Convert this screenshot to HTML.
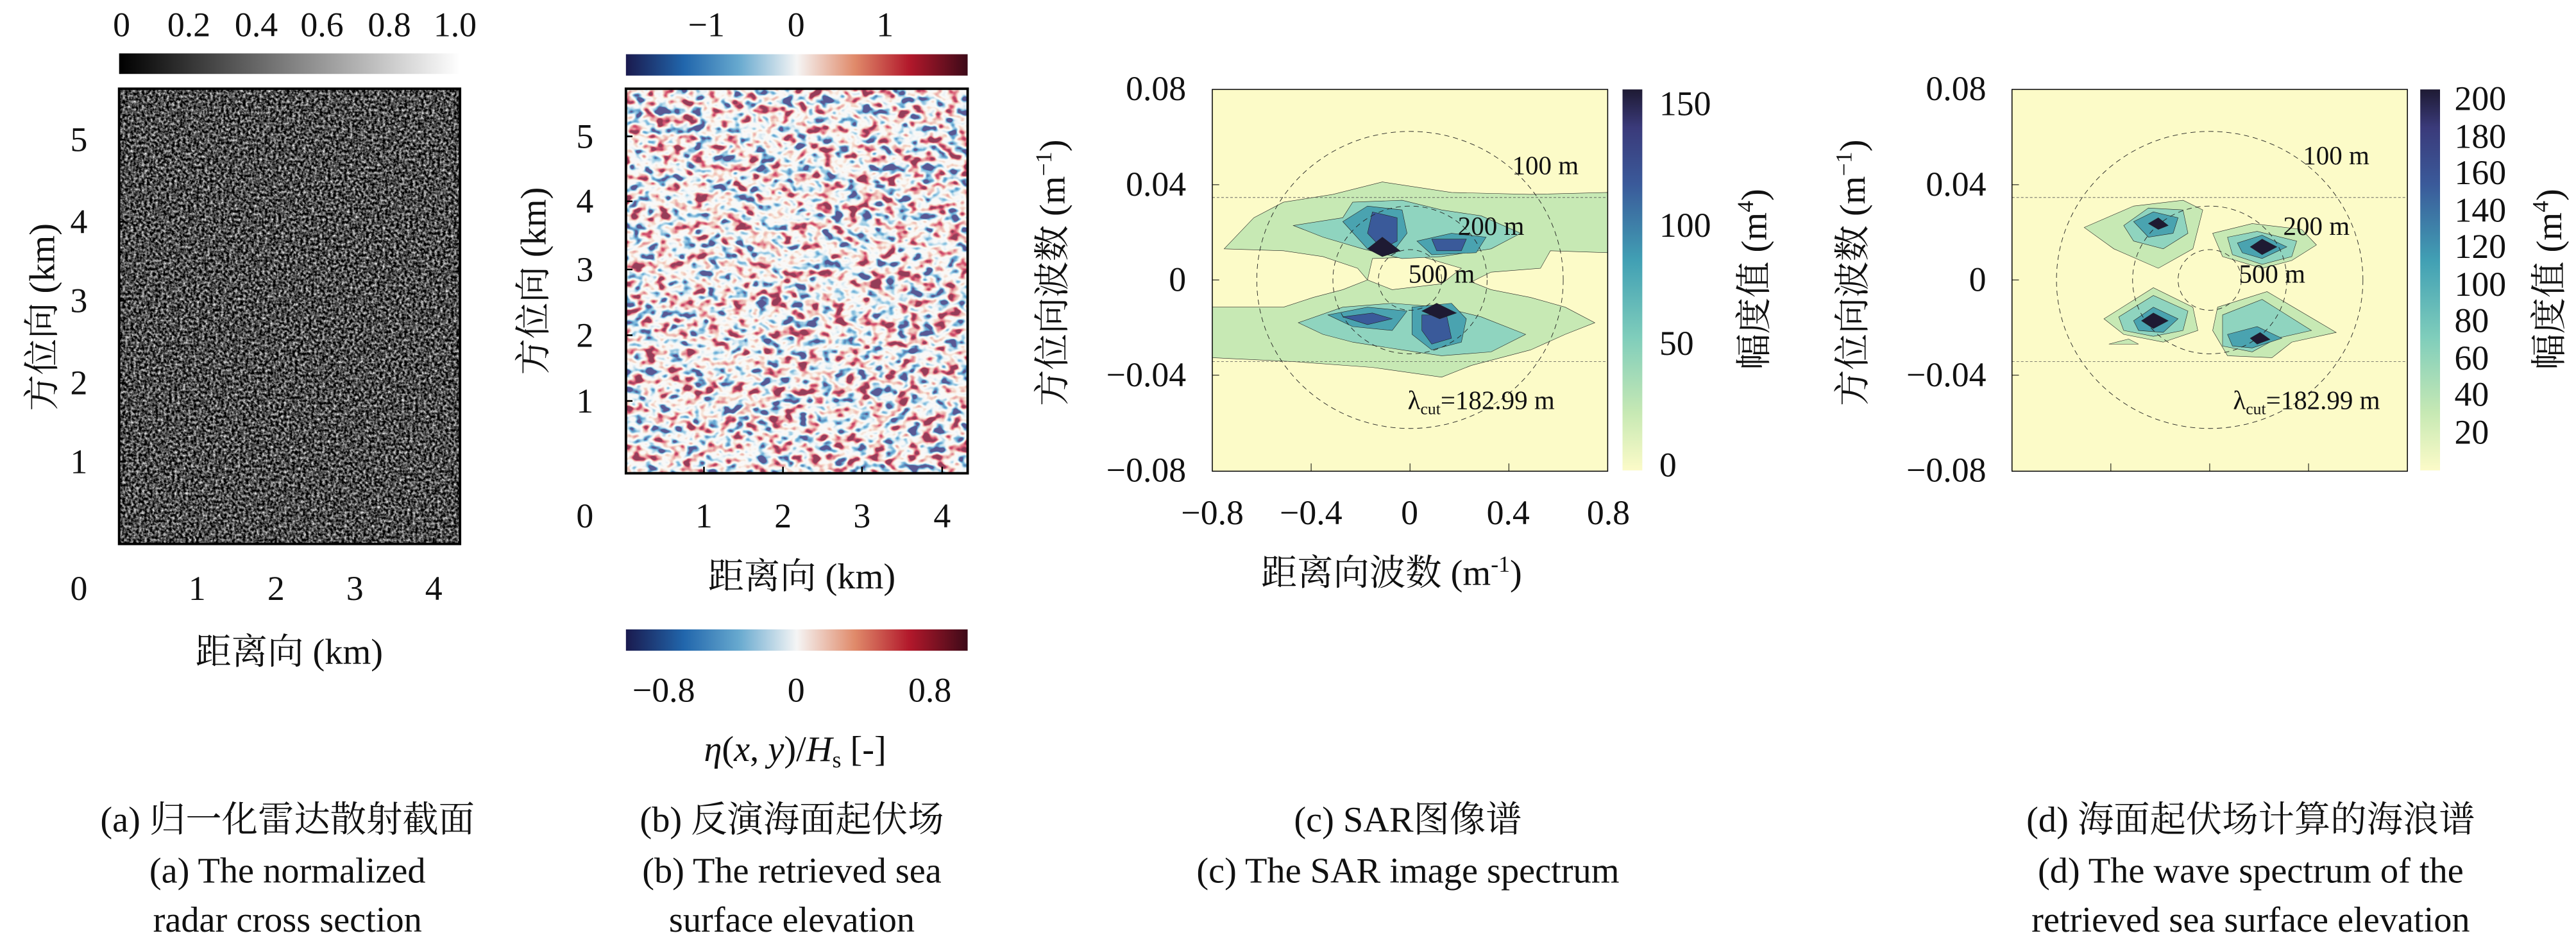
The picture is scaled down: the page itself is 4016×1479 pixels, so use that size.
<!DOCTYPE html>
<html><head><meta charset="utf-8"><style>
html,body{margin:0;padding:0;background:#fff;}
svg{display:block;}
text{font-family:"Liberation Serif","Noto Serif CJK SC",serif;fill:#111;}
.t{font-size:21px;}
.c{font-size:22px;}
</style></head><body>
<svg width="4016" height="1479" viewBox="0 0 1568 577.5" preserveAspectRatio="none" xmlns="http://www.w3.org/2000/svg">
<defs>
<linearGradient id="gg"><stop offset="0" stop-color="#000"/><stop offset="1" stop-color="#fff"/></linearGradient>
<linearGradient id="gd">
<stop offset="0" stop-color="#1a1a4e"/><stop offset="0.17" stop-color="#2166ac"/><stop offset="0.33" stop-color="#67a9cf"/><stop offset="0.5" stop-color="#f5f5f5"/><stop offset="0.67" stop-color="#e08a6a"/><stop offset="0.83" stop-color="#b2182b"/><stop offset="1" stop-color="#3d0a18"/></linearGradient>
<linearGradient id="gs" x1="0" y1="1" x2="0" y2="0">
<stop offset="0" stop-color="#fcfbc8"/><stop offset="0.15" stop-color="#c7e9b4"/><stop offset="0.35" stop-color="#7fcdbb"/><stop offset="0.55" stop-color="#41a0b4"/><stop offset="0.75" stop-color="#3a5a9a"/><stop offset="0.9" stop-color="#3a3a7a"/><stop offset="1" stop-color="#1e1a33"/></linearGradient>
<filter id="fa" x="0" y="0" width="1" height="1" color-interpolation-filters="sRGB">
<feTurbulence type="fractalNoise" baseFrequency="0.6" numOctaves="3" seed="3"/>
<feColorMatrix type="matrix" values="1.7 0 0 0 -0.55  1.7 0 0 0 -0.55  1.7 0 0 0 -0.55  0 0 0 0 1"/>
</filter>
<filter id="fb" x="0" y="0" width="1" height="1">
<feTurbulence type="fractalNoise" baseFrequency="0.13 0.17" numOctaves="2" seed="7"/>
<feColorMatrix type="matrix" values="2.4 0 0 0 -0.7  2.4 0 0 0 -0.7  2.4 0 0 0 -0.7  0 0 0 0 1"/>
<feComponentTransfer>
<feFuncR type="table" tableValues="0.1 0.13 0.4 0.8 0.95 0.95 0.92 0.82 0.7 0.3"/>
<feFuncG type="table" tableValues="0.1 0.4 0.66 0.88 0.95 0.93 0.7 0.4 0.09 0.05"/>
<feFuncB type="table" tableValues="0.3 0.67 0.81 0.92 0.95 0.9 0.6 0.4 0.17 0.1"/>
</feComponentTransfer>
</filter>
</defs>

<!-- Panel a -->
<rect x="72.5" y="32.5" width="207.5" height="12.5" fill="url(#gg)"/>
<g class="t" text-anchor="middle">
<text x="74" y="22">0</text><text x="115" y="22">0.2</text><text x="156" y="22">0.4</text><text x="196" y="22">0.6</text><text x="237" y="22">0.8</text><text x="277" y="22">1.0</text>
</g>
<rect x="72.5" y="54" width="207.5" height="277" fill="#3a3a3a"/>
<rect x="72.5" y="54" width="207.5" height="277" filter="url(#fa)"/>
<rect x="72.5" y="54" width="207.5" height="277" fill="none" stroke="#000" stroke-width="1.5"/>
<g stroke="#000" stroke-width="1">
<path d="M120 331v-4M168 331v-4M216 331v-4M264 331v-4M72.5 85h4M72.5 135h4M72.5 183h4M72.5 233h4M72.5 281h4"/>
</g>
<g class="t" text-anchor="middle">
<text x="48" y="365">0</text><text x="120" y="365">1</text><text x="168" y="365">2</text><text x="216" y="365">3</text><text x="264" y="365">4</text>
<text x="48" y="92">5</text><text x="48" y="142">4</text><text x="48" y="190">3</text><text x="48" y="240">2</text><text x="48" y="288">1</text>
</g>
<text class="c" x="176" y="404" text-anchor="middle">距离向 (km)</text>
<text class="c" transform="translate(33,193) rotate(-90)" text-anchor="middle">方位向 (km)</text>

<!-- Panel b -->
<rect x="381" y="33" width="208" height="13" fill="url(#gd)"/>
<g class="t" text-anchor="middle">
<text x="430" y="22">−1</text><text x="484.6" y="22">0</text><text x="538.7" y="22">1</text>
</g>
<rect x="381" y="54" width="208" height="234" filter="url(#fb)"/>
<rect x="381" y="54" width="208" height="234" fill="none" stroke="#000" stroke-width="1.5"/>
<g stroke="#000" stroke-width="1">
<path d="M428.5 288v-4M476.6 288v-4M524.7 288v-4M573.5 288v-4M381 83h4M381 122.5h4M381 164h4M381 204h4M381 244h4"/>
</g>
<g class="t" text-anchor="middle">
<text x="356" y="321">0</text><text x="428.5" y="321">1</text><text x="476.6" y="321">2</text><text x="524.7" y="321">3</text><text x="573.5" y="321">4</text>
<text x="356" y="90">5</text><text x="356" y="129.5">4</text><text x="356" y="171">3</text><text x="356" y="211">2</text><text x="356" y="251">1</text>
</g>
<text class="c" x="488" y="358" text-anchor="middle">距离向 (km)</text>
<text class="c" transform="translate(332,171) rotate(-90)" text-anchor="middle">方位向 (km)</text>
<rect x="381" y="383" width="208" height="13" fill="url(#gd)"/>
<g class="t" text-anchor="middle">
<text x="404" y="427">−0.8</text><text x="484.6" y="427">0</text><text x="566" y="427">0.8</text>
</g>
<text class="c" x="484" y="463" text-anchor="middle"><tspan font-style="italic">η</tspan>(<tspan font-style="italic">x</tspan>, <tspan font-style="italic">y</tspan>)/<tspan font-style="italic">H</tspan><tspan font-size="14" dy="4">s</tspan><tspan dy="-4"> [-]</tspan></text>

<!-- Panels c,d -->
<g transform="translate(624.8,0) scale(0.6017,0.2366)">
 <rect x="188" y="230" width="400" height="982" fill="#fcfbc8"/>
 <rect x="997" y="230" width="400" height="982" fill="#fcfbc8"/>
 <g stroke="#222" stroke-width="0.6">
 <path vector-effect="non-scaling-stroke" fill="#c7e9b4" fill-rule="evenodd" d="M200 640 L230 560 L260 520 L310 500 L360 468 L430 495 L510 500 L588 495 L588 650 L530 645 L520 690 L470 700 L450 725 L470 745 L510 765 L545 790 L575 830 L545 860 L510 900 L450 940 L420 970 L350 945 L270 930 L188 920 L188 790 L260 790 L290 765 L320 745 L345 720 L335 690 L300 660 L260 645 Z M350 665 L400 660 L440 690 L420 730 L370 745 L345 720 Z"/>
 <path vector-effect="non-scaling-stroke" fill="#8fd4bf" d="M270 580 L320 560 L330 520 L380 515 L420 540 L460 555 L500 600 L470 640 L420 660 L380 665 L340 640 L300 610 Z"/>
 <path vector-effect="non-scaling-stroke" fill="#8fd4bf" d="M275 830 L320 790 L370 780 L420 790 L460 815 L505 860 L470 905 L420 915 L380 900 L330 880 L300 860 Z"/>
 <path vector-effect="non-scaling-stroke" fill="#4aa3b0" d="M320 570 L345 530 L380 540 L385 600 L370 650 L345 640 Z M395 620 L430 600 L465 610 L455 650 L410 655 Z"/>
 <path vector-effect="non-scaling-stroke" fill="#4aa3b0" d="M305 810 L345 790 L385 800 L370 850 L330 840 Z M390 790 L430 780 L445 820 L440 880 L410 900 L390 860 Z"/>
 <path vector-effect="non-scaling-stroke" fill="#3a5a9a" d="M350 545 L375 560 L375 620 L360 640 L345 600 Z M410 615 L445 615 L440 645 L415 645 Z M320 815 L350 805 L370 820 L345 835 Z M400 810 L425 810 L430 870 L410 885 L400 850 Z"/>
 <path vector-effect="non-scaling-stroke" fill="#1e1a33" d="M345 640 L360 610 L378 645 L360 660 Z M400 800 L415 780 L435 805 L418 820 Z"/>
 <path vector-effect="non-scaling-stroke" fill="#c7e9b4" d="M1070 585 L1120 530 L1170 515 L1190 540 L1180 640 L1145 690 L1100 640 Z M1200 600 L1240 575 L1290 590 L1305 630 L1280 670 L1250 690 L1210 660 Z M1090 820 L1140 740 L1180 790 L1185 850 L1150 880 L1110 860 Z M1205 790 L1255 750 L1325 855 L1280 880 L1260 920 L1215 915 L1200 850 Z M1095 885 L1115 872 L1125 885 Z"/>
 <path vector-effect="non-scaling-stroke" fill="#8fd4bf" d="M1110 580 L1135 535 L1170 540 L1175 600 L1150 640 L1120 620 Z M1215 610 L1245 595 L1285 620 L1280 660 L1250 680 L1220 655 Z M1105 815 L1140 760 L1175 800 L1170 850 L1140 865 L1110 850 Z M1210 810 L1250 770 L1300 850 L1265 870 L1240 905 L1210 890 Z"/>
 <path vector-effect="non-scaling-stroke" fill="#4aa3b0" d="M1120 570 L1140 545 L1165 560 L1160 600 L1135 610 Z M1225 625 L1250 605 L1275 635 L1250 665 L1230 650 Z M1120 825 L1140 790 L1165 820 L1150 855 L1125 850 Z M1215 860 L1245 840 L1270 870 L1240 895 L1220 890 Z"/>
 <path vector-effect="non-scaling-stroke" fill="#1e1a33" d="M1135 575 L1145 560 L1155 580 L1145 590 Z M1238 635 L1250 615 L1265 635 L1250 655 Z M1128 825 L1140 805 L1155 825 L1140 845 Z M1238 870 L1248 855 L1258 873 L1245 885 Z"/>
 </g>
 <g fill="none" stroke="#222" stroke-dasharray="8 6" stroke-width="0.9">
 <ellipse vector-effect="non-scaling-stroke" cx="388" cy="720" rx="155" ry="382"/>
 <ellipse vector-effect="non-scaling-stroke" cx="388" cy="720" rx="78" ry="190"/>
 <ellipse vector-effect="non-scaling-stroke" cx="388" cy="720" rx="32" ry="78"/>
 <ellipse vector-effect="non-scaling-stroke" cx="1197" cy="720" rx="155" ry="382"/>
 <ellipse vector-effect="non-scaling-stroke" cx="1197" cy="720" rx="78" ry="190"/>
 <ellipse vector-effect="non-scaling-stroke" cx="1197" cy="720" rx="32" ry="78"/>
 </g>
 <g fill="none" stroke="#555" stroke-dasharray="4 3" stroke-width="0.8">
 <path vector-effect="non-scaling-stroke" d="M188 508H588M188 930H588M997 508H1397M997 930H1397"/>
 </g>
 <g fill="none" stroke="#000" stroke-width="1.5">
 <rect vector-effect="non-scaling-stroke" x="188" y="230" width="400" height="982"/>
 <rect vector-effect="non-scaling-stroke" x="997" y="230" width="400" height="982"/>
 </g>
 <g stroke="#000" stroke-width="1">
 <path vector-effect="non-scaling-stroke" d="M288 1212v-20M388 1212v-20M488 1212v-20M188 475h7M188 720h7M188 965h7M1097 1212v-20M1197 1212v-20M1297 1212v-20M997 475h7M997 720h7M997 965h7"/>
 </g>
 <rect x="603" y="230" width="20" height="980" fill="url(#gs)"/>
 <rect x="1410" y="230" width="20" height="980" fill="url(#gs)"/>
</g>

<g style="font-size:16px" text-anchor="middle">
<text x="940.7" y="106">100 m</text><text x="907.6" y="143">200 m</text><text x="877.5" y="172">500 m</text>
<text x="901.6" y="249">λ<tspan font-size="10" dy="3">cut</tspan><tspan dy="-3">=182.99 m</tspan></text>
<text x="1422" y="100">100 m</text><text x="1410" y="143">200 m</text><text x="1383" y="172">500 m</text>
<text x="1404" y="249">λ<tspan font-size="10" dy="3">cut</tspan><tspan dy="-3">=182.99 m</tspan></text>
</g>
<g class="t" text-anchor="end">
<text x="722" y="61">0.08</text><text x="722" y="119">0.04</text><text x="722" y="177">0</text><text x="722" y="235">−0.04</text><text x="722" y="293">−0.08</text>
<text x="1209" y="61">0.08</text><text x="1209" y="119">0.04</text><text x="1209" y="177">0</text><text x="1209" y="235">−0.04</text><text x="1209" y="293">−0.08</text>
</g>
<g class="t" text-anchor="middle">
<text x="738" y="319">−0.8</text><text x="798" y="319">−0.4</text><text x="858" y="319">0</text><text x="918" y="319">0.4</text><text x="979" y="319">0.8</text>
</g>
<g class="t">
<text x="1010" y="70">150</text><text x="1010" y="144">100</text><text x="1010" y="216">50</text><text x="1010" y="290">0</text>
<text x="1494" y="67">200</text><text x="1494" y="90">180</text><text x="1494" y="112">160</text><text x="1494" y="135">140</text><text x="1494" y="157">120</text><text x="1494" y="180">100</text><text x="1494" y="202">80</text><text x="1494" y="225">60</text><text x="1494" y="247">40</text><text x="1494" y="270">20</text>
</g>
<text class="c" x="847" y="356" text-anchor="middle">距离向波数 (m<tspan font-size="14" dy="-8">-1</tspan><tspan dy="8">)</tspan></text>
<text class="c" transform="translate(648,166) rotate(-90)" text-anchor="middle">方位向波数 (m<tspan font-size="14" dy="-8">−1</tspan><tspan dy="8">)</tspan></text>
<text class="c" transform="translate(1075,170) rotate(-90)" text-anchor="middle">幅度值 (m<tspan font-size="14" dy="-8">4</tspan><tspan dy="8">)</tspan></text>
<text class="c" transform="translate(1135,166) rotate(-90)" text-anchor="middle">方位向波数 (m<tspan font-size="14" dy="-8">−1</tspan><tspan dy="8">)</tspan></text>
<text class="c" transform="translate(1559,170) rotate(-90)" text-anchor="middle">幅度值 (m<tspan font-size="14" dy="-8">4</tspan><tspan dy="8">)</tspan></text>

<g class="c" text-anchor="middle">
<text x="175" y="506">(a) 归一化雷达散射截面</text>
<text x="175" y="537">(a) The normalized</text>
<text x="175" y="567">radar cross section</text>
<text x="482" y="506">(b) 反演海面起伏场</text>
<text x="482" y="537">(b) The retrieved sea</text>
<text x="482" y="567">surface elevation</text>
<text x="857" y="506">(c) SAR图像谱</text>
<text x="857" y="537">(c) The SAR image spectrum</text>
<text x="1370" y="506">(d) 海面起伏场计算的海浪谱</text>
<text x="1370" y="537">(d) The wave spectrum of the</text>
<text x="1370" y="567">retrieved sea surface elevation</text>
</g>
</svg>
</body></html>
